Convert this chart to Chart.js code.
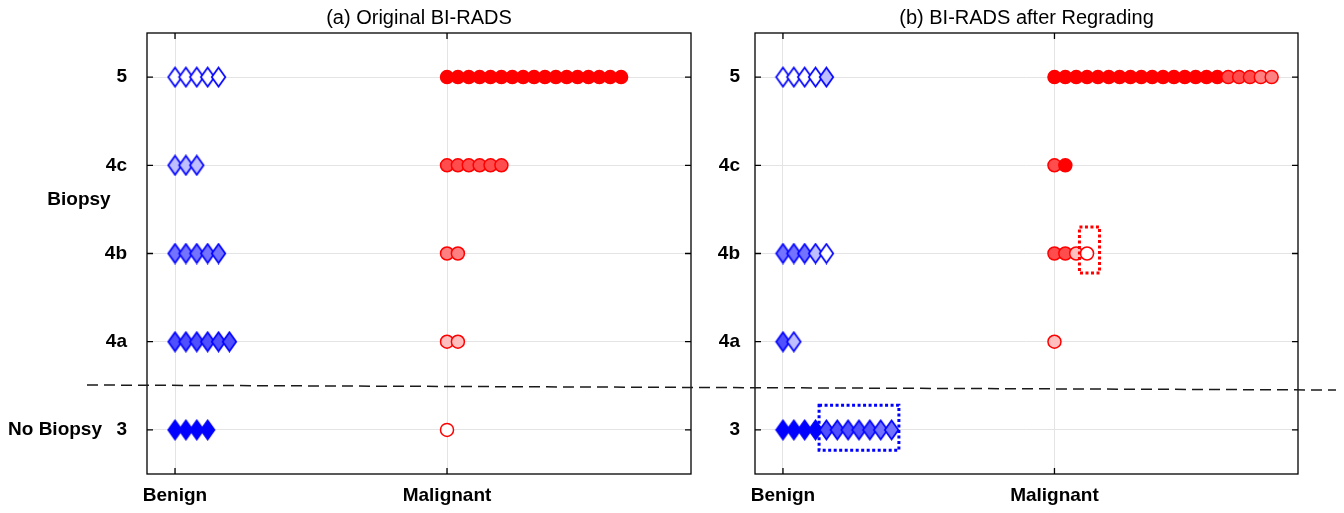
<!DOCTYPE html>
<html>
<head>
<meta charset="utf-8">
<script src="https://cdn.jsdelivr.net/npm/chart.js@4"></script>
<style>
  html, body { margin: 0; padding: 0; background: #fff; }
  #wrap { position: relative; width: 1344px; height: 513px; overflow: hidden; }
  #chartA { position: absolute; left: 0; top: 0; }
  #chartB { position: absolute; left: 700px; top: 0; }
  #cut { position: absolute; left: 0; top: 0; pointer-events: none; }
</style>
</head>
<body>
<div id="wrap">
  <canvas id="chartA" width="700" height="513"></canvas>
  <canvas id="chartB" width="644" height="513"></canvas>
  <svg id="cut" width="1344" height="513">
    <line x1="87" y1="385" x2="1336" y2="390" stroke="#1a1a1a" stroke-width="1.5" stroke-dasharray="11 6"/>
  </svg>
</div>
<script>
const grades = ["3", "4a", "4b", "4c", "5"];       // y rows 1..5
const classes = ["Benign", "Malignant"];           // x positions 1, 2
const benignFill = ["#0000ff", "#5050ff", "#7373ff", "#bfbfff", "#ffffff"];
const malignantFill = ["#ffffff", "#ffbfbf", "#ff8080", "#ff4d4d", "#ff0000"];

// (a) number of cases per original grade (rows 3, 4a, 4b, 4c, 5)
const origBenign = [4, 6, 5, 3, 5];
const origMalignant = [1, 2, 2, 6, 17];

// (b) original grade of each case, listed per regraded row
const regradedBenign = [
  ["3", "3", "3", "3", "4a", "4a", "4a", "4a", "4a", "4b", "4b"],
  ["4a", "4c"],
  ["4b", "4b", "4b", "4c", "5"],
  [],
  ["5", "5", "5", "5", "4c"]
];
const regradedMalignant = [
  [],
  ["4a"],
  ["4c", "4c", "4a", "3"],
  ["4c", "5"],
  ["5", "5", "5", "5", "5", "5", "5", "5", "5", "5", "5", "5", "5", "5", "5", "5",
   "4c", "4c", "4c", "4b", "4b"]
];

// dotted boxes in (b), in data units [xMin, xMax, yMin, yMax]
const blueBox = [1.133, 1.427, 0.77, 1.28];
const redBox = [2.092, 2.166, 2.78, 3.30];

const step = 0.04;
const fontFamily = "'Liberation Sans', Arial, Helvetica, sans-serif";

// tall diamond marker, one canvas per fill colour
const diamondCache = {};
function diamond(fill) {
  if (diamondCache[fill]) return diamondCache[fill];
  const c = document.createElement("canvas");
  c.width = 17;
  c.height = 22;
  const g = c.getContext("2d");
  g.beginPath();
  g.moveTo(8.5, 1.5);
  g.lineTo(15.3, 11);
  g.lineTo(8.5, 20.5);
  g.lineTo(1.7, 11);
  g.closePath();
  g.fillStyle = fill;
  g.fill();
  g.lineWidth = 1.7;
  g.strokeStyle = "#0000ff";
  g.stroke();
  diamondCache[fill] = c;
  return c;
}

function buildDatasets(benignRows, malignantRows) {
  const sets = [];
  benignRows.forEach((codes, r) => {
    sets.push({
      data: codes.map((c, i) => ({ x: 1 + i * step, y: r + 1 })),
      pointStyle: codes.map(c => diamond(benignFill[grades.indexOf(c)])),
      pointRadius: 8,
      pointBorderWidth: 0
    });
  });
  malignantRows.forEach((codes, r) => {
    sets.push({
      data: codes.map((c, i) => ({ x: 2 + i * step, y: r + 1 })),
      pointStyle: "circle",
      pointRadius: 6.5,
      pointBorderWidth: 1.5,
      pointBorderColor: "#ff0000",
      pointBackgroundColor: codes.map(c => malignantFill[grades.indexOf(c)])
    });
  });
  return sets;
}

const frame = {
  id: "frame",
  afterDraw(chart, args, opts) {
    const { ctx, chartArea: a, scales } = chart;
    ctx.save();
    ctx.strokeStyle = "#000";
    ctx.lineWidth = 1.3;
    ctx.strokeRect(a.left, a.top, a.right - a.left, a.bottom - a.top);
    ctx.beginPath();
    [1, 2].forEach(v => {
      const px = scales.x.getPixelForValue(v);
      ctx.moveTo(px, a.top); ctx.lineTo(px, a.top + 6);
      ctx.moveTo(px, a.bottom); ctx.lineTo(px, a.bottom - 6);
    });
    [1, 2, 3, 4, 5].forEach(v => {
      const py = scales.y.getPixelForValue(v);
      ctx.moveTo(a.left, py); ctx.lineTo(a.left + 6, py);
      ctx.moveTo(a.right, py); ctx.lineTo(a.right - 6, py);
    });
    ctx.stroke();

    if (opts.boxes) {
      ctx.lineWidth = 3;
      ctx.setLineDash([3, 2.5]);
      opts.boxes.forEach(b => {
        const x0 = scales.x.getPixelForValue(b.box[0]);
        const x1 = scales.x.getPixelForValue(b.box[1]);
        const y0 = scales.y.getPixelForValue(b.box[3]);
        const y1 = scales.y.getPixelForValue(b.box[2]);
        ctx.strokeStyle = b.color;
        ctx.strokeRect(x0, y0, x1 - x0, y1 - y0);
      });
    }
    if (opts.sideLabels) {
      ctx.setLineDash([]);
      ctx.fillStyle = "#000";
      ctx.font = "bold 19px " + fontFamily;
      ctx.textAlign = "center";
      ctx.textBaseline = "middle";
      ctx.fillText("Biopsy", 79, scales.y.getPixelForValue(3.61));
      ctx.fillText("No Biopsy", 55, scales.y.getPixelForValue(1));
    }
    ctx.restore();
  }
};

function makeChart(id, title, datasets, yWidth, yPad, rightPad, frameOpts) {
  return new Chart(document.getElementById(id), {
    type: "scatter",
    data: { datasets },
    plugins: [frame],
    options: {
      responsive: false,
      animation: false,
      events: [],
      layout: { padding: { left: 0, right: rightPad, top: 0, bottom: 0 } },
      plugins: {
        legend: { display: false },
        tooltip: { enabled: false },
        title: {
          display: true,
          text: title,
          fullSize: false,
          color: "#000",
          font: { family: fontFamily, size: 20, weight: "normal" },
          padding: { top: 6, bottom: 3 }
        },
        frame: frameOpts
      },
      scales: {
        x: {
          type: "linear",
          min: 0.897,
          max: 2.897,
          border: { display: false },
          grid: { color: "#e4e4e4", drawTicks: false },
          afterBuildTicks: axis => { axis.ticks = [{ value: 1 }, { value: 2 }]; },
          afterFit: axis => { axis.height = 39; },
          ticks: {
            padding: 10,
            color: "#000",
            font: { family: fontFamily, size: 19, weight: "bold" },
            callback: v => classes[v - 1]
          }
        },
        y: {
          type: "linear",
          min: 0.5,
          max: 5.5,
          border: { display: false },
          grid: { color: "#e4e4e4", drawTicks: false },
          afterBuildTicks: axis => { axis.ticks = grades.map((g, i) => ({ value: i + 1 })); },
          afterFit: axis => { axis.width = yWidth; },
          ticks: {
            padding: yPad,
            color: "#000",
            font: { family: fontFamily, size: 19, weight: "bold" },
            callback: v => grades[v - 1]
          }
        }
      }
    }
  });
}

const origBenignRows = origBenign.map((n, r) => Array(n).fill(grades[r]));
const origMalignantRows = origMalignant.map((n, r) => Array(n).fill(grades[r]));

makeChart("chartA", "(a) Original BI-RADS",
  buildDatasets(origBenignRows, origMalignantRows), 147, 20, 9, { sideLabels: true });

makeChart("chartB", "(b) BI-RADS after Regrading",
  buildDatasets(regradedBenign, regradedMalignant), 55, 15, 46, {
    boxes: [{ box: blueBox, color: "#0000ff" }, { box: redBox, color: "#ff0000" }]
  });
</script>
</body>
</html>
